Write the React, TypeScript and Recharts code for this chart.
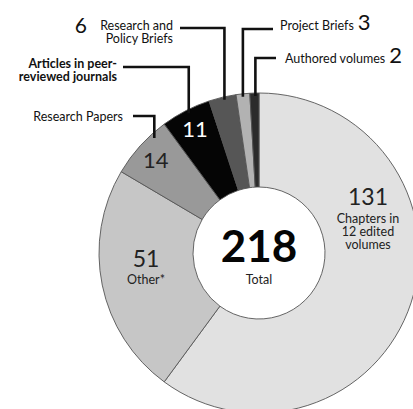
import { PieChart, Pie, Cell } from 'recharts'

// publication counts, clockwise from 12 o'clock
const categories = [
  'Chapters in 12 edited volumes',
  'Other*',
  'Research Papers',
  'Articles in peer-reviewed journals',
  'Research and Policy Briefs',
  'Project Briefs',
  'Authored volumes',
]
const counts = [131, 51, 14, 11, 6, 3, 2]
const labelLines = [
  ['Chapters in', '12 edited', 'volumes'],
  ['Other*'],
  ['Research Papers'],
  ['Articles in peer-', 'reviewed journals'],
  ['Research and', 'Policy Briefs'],
  ['Project Briefs'],
  ['Authored volumes'],
]
const totalLabel = 'Total'

const fills = ['#e1e1e1', '#c6c6c6', '#999999', '#050505', '#565656', '#b2b2b2', '#2b2b2b']

const data = categories.map((name, i) => ({ name, value: counts[i] }))
const total = counts.reduce((a, b) => a + b, 0)

const FONT = 'Lato, "Open Sans", sans-serif'
const RAD = Math.PI / 180
const SMALL = 12.5
const GAP = 13

// where each label sits; 'inside' ones are baselines relative to the centre,
// 'outside' ones hang off a leader line
const layout: any[] = [
  { kind: 'inside', dx: 109, valueBase: -48, lineGap: 18 },
  { kind: 'inside', dx: -113, valueBase: 14, lineGap: 17 },
  { kind: 'outside', dx: 14, inset: 6, elbowY: 116, endX: 133, textX: 123, anchor: 'end', base: 121, valueR: 139 },
  { kind: 'outside', dx: 3, inset: 4, elbowY: 67, endX: 123, textX: 117, anchor: 'end', base: 68, bold: true, valueR: 140, valueFill: '#fff' },
  { kind: 'outside', dx: 2, inset: 3, elbowY: 28, endX: 180, textX: 173, anchor: 'end', base: 30, valueBefore: 87 },
  { kind: 'outside', dx: 0, inset: 3, elbowY: 29, endX: 273, textX: 280, anchor: 'start', base: 30, valueAfter: true },
  { kind: 'outside', dx: 1, inset: 3, elbowY: 58, endX: 276, textX: 285, anchor: 'start', base: 63, valueAfter: true },
]

function renderLabel(props: any) {
  const { cx, cy, midAngle, outerRadius, index, value } = props
  const cfg = layout[index]
  const lines = labelLines[index]
  const out: any[] = []

  if (index === 0) {
    out.push(
      <text key="tot" x={cx} y={cy + 9} textAnchor="middle" fontFamily={FONT} fontWeight={700}
        fontSize={44} fill="#050505">{total}</text>,
      <text key="totl" x={cx} y={cy + 31} textAnchor="middle" fontFamily={FONT}
        fontSize={SMALL} fill="#222">{totalLabel}</text>,
    )
  }

  if (cfg.kind === 'inside') {
    const x = cx + cfg.dx
    out.push(
      <text key="v" x={x} y={cy + cfg.valueBase} textAnchor="middle" fontFamily={FONT}
        fontSize={23} fill="#222">{value}</text>,
      <text key="l" x={x} y={cy + cfg.valueBase + cfg.lineGap} textAnchor="middle" fontFamily={FONT}
        fontSize={SMALL} fill="#222">
        {lines.map((l: string, i: number) => (
          <tspan key={i} x={x} dy={i === 0 ? 0 : GAP}>{l}</tspan>
        ))}
      </text>,
    )
    return <g>{out}</g>
  }

  // leader line from the slice edge up to the label
  const px = cx + outerRadius * Math.cos(-midAngle * RAD) + cfg.dx
  const py = cy - Math.sqrt(Math.max(outerRadius * outerRadius - (px - cx) * (px - cx), 0)) + cfg.inset
  out.push(
    <path key="ln" d={`M${px},${py}V${cfg.elbowY}H${cfg.endX}`} fill="none" stroke="#111" strokeWidth={2.6} />,
  )
  out.push(
    <text key="t" x={cfg.textX} y={cfg.base} textAnchor={cfg.anchor} fontFamily={FONT}
      fontSize={SMALL} fontWeight={cfg.bold ? 700 : 400} fill="#111">
      {lines.map((l: string, i: number) => {
        const last = i === lines.length - 1
        return (
          <tspan key={i} x={cfg.textX} dy={i === 0 ? 0 : GAP}>
            {l}
            {cfg.valueAfter && last ? <tspan fontSize={22} dx={4}>{value}</tspan> : null}
          </tspan>
        )
      })}
    </text>,
  )
  if (cfg.valueBefore) {
    out.push(
      <text key="vb" x={cfg.valueBefore} y={cfg.base + 3} textAnchor="end" fontFamily={FONT}
        fontSize={21} fill="#111">{value}</text>,
    )
  }
  if (cfg.valueR) {
    const vx = cx + cfg.valueR * Math.cos(-midAngle * RAD)
    const vy = cy + cfg.valueR * Math.sin(-midAngle * RAD)
    out.push(
      <text key="vi" x={vx} y={vy + 8} textAnchor="middle" fontFamily={FONT}
        fontSize={22} fill={cfg.valueFill || '#222'}>{value}</text>,
    )
  }
  return <g>{out}</g>
}

export default function App() {
  return (
    <div style={{ position: 'absolute', left: 0, top: 0, width: 413, height: 409, background: '#fff' }}>
      <PieChart width={413} height={409} margin={{ top: 0, right: 0, bottom: 0, left: 0 }}>
        <Pie
          data={data}
          dataKey="value"
          nameKey="name"
          cx={259}
          cy={253}
          innerRadius={66}
          outerRadius={160}
          startAngle={90}
          endAngle={-270}
          stroke="#555"
          strokeWidth={0.9}
          label={renderLabel}
          labelLine={false}
          isAnimationActive={false}
        >
          {data.map((d, i) => (
            <Cell key={d.name} fill={fills[i]} />
          ))}
        </Pie>
      </PieChart>
    </div>
  )
}
